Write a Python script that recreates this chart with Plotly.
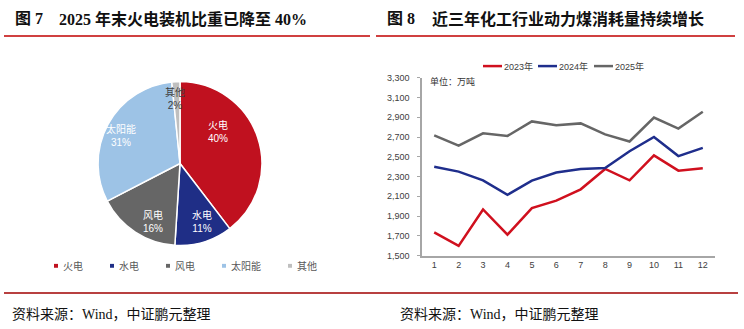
import plotly.graph_objects as go

W, H = 744, 329


def px(x):
    return x / W


def py(y):
    return 1 - y / H


# ---------------- data ----------------
pie_labels = ["火电", "水电", "风电", "太阳能", "其他"]
pie_values = [39.6, 11.4, 16.4, 31.0, 1.6]
pie_colors = ["#C0111F", "#1F2E86", "#666666", "#9DC3E6", "#BFBFBF"]

months = list(range(1, 13))
y_ticks = list(range(1500, 3301, 200))
series_names = ["2023年", "2024年", "2025年"]
s2023 = [1736, 1598, 1967, 1712, 1981, 2056, 2171, 2377, 2262, 2514, 2360, 2384]
s2024 = [2399, 2350, 2262, 2115, 2259, 2341, 2377, 2387, 2556, 2701, 2507, 2590]
s2025 = [2717, 2612, 2737, 2711, 2858, 2819, 2838, 2727, 2655, 2897, 2786, 2956]
series_values = [s2023, s2024, s2025]
series_colors = ["#D0101E", "#1F2E8C", "#666666"]

title_left_no = "图 7"
title_left = "2025 年末火电装机比重已降至 40%"
title_right_no = "图 8"
title_right = "近三年化工行业动力煤消耗量持续增长"
source_text = "资料来源：Wind，中证鹏元整理"
unit_text = "单位：万吨"

CJK = "Liberation Sans, Noto Sans CJK SC"
SERIF = "Liberation Serif, Noto Sans CJK SC"

fig = go.Figure()

# ---------------- pie ----------------
fig.add_trace(go.Pie(
    labels=pie_labels, values=pie_values, sort=False, direction="clockwise",
    rotation=0,
    marker=dict(colors=pie_colors, line=dict(color="white", width=1.5)),
    textinfo="none",
    domain=dict(x=[px(95.5), px(264.5)], y=[py(248), py(79)]),
    showlegend=False, hoverinfo="label+percent",
))

# ---------------- lines ----------------
for name, vals, col in zip(series_names, series_values, series_colors):
    fig.add_trace(go.Scatter(
        x=months, y=vals, mode="lines", name=name,
        line=dict(color=col, width=2.5), showlegend=False,
    ))

fig.update_layout(
    width=W, height=H, margin=dict(l=0, r=0, t=0, b=0),
    paper_bgcolor="white", plot_bgcolor="white",
    font=dict(family=CJK, color="#404040"),
    xaxis=dict(domain=[px(422), px(715)], range=[0.5, 12.5], tickvals=months,
               showline=True, linecolor="#A6A6A6", linewidth=1.5,
               showgrid=False, zeroline=False, ticks="",
               tickfont=dict(size=9, color="#404040")),
    yaxis=dict(domain=[py(258.5), py(75)], range=[1500, 3300], tickvals=y_ticks,
               tickformat=",", showline=True, linecolor="#A6A6A6", linewidth=1.5,
               showgrid=False, zeroline=False, ticks="outside", ticklen=3,
               tickcolor="#A6A6A6", ticklabelstandoff=6,
               tickfont=dict(size=9, color="#404040")),
)

shapes = []
annotations = []

# title underlines and bottom rule
shapes.append(dict(type="line", xref="paper", yref="paper", x0=px(4), x1=px(370),
                   y0=py(32), y1=py(32), line=dict(color="#C00000", width=1.5)))
shapes.append(dict(type="line", xref="paper", yref="paper", x0=px(376), x1=px(735),
                   y0=py(32), y1=py(32), line=dict(color="#C00000", width=1.5)))
shapes.append(dict(type="line", xref="paper", yref="paper", x0=px(4), x1=px(738),
                   y0=py(297), y1=py(297), line=dict(color="#A00000", width=1.5)))

# titles
for x, txt in [(13, title_left_no), (57, title_left), (385, title_right_no), (430, title_right)]:
    annotations.append(dict(xref="paper", yref="paper", x=px(x), y=py(14), text=f"<b>{txt}</b>",
                            showarrow=False, xanchor="left", yanchor="middle",
                            font=dict(family=SERIF, size=16, color="#111111")))

# sources
for x in [10, 398]:
    annotations.append(dict(xref="paper", yref="paper", x=px(x), y=py(319), text=source_text,
                            showarrow=False, xanchor="left", yanchor="middle",
                            font=dict(family=SERIF, size=14, color="#111111")))

# unit
annotations.append(dict(xref="paper", yref="paper", x=px(428), y=py(79), text=unit_text,
                        showarrow=False, xanchor="left", yanchor="middle",
                        font=dict(family=CJK, size=9, color="#333333")))

# slice labels
total = sum(pie_values)
label_pos = [(217.5, 130.5), (201.5, 223.5), (152.5, 223), (121, 135), (175, 96.5)]
label_cols = ["white", "white", "white", "white", "#404040"]
for (x, y), lab, val, tc in zip(label_pos, pie_labels, pie_values, label_cols):
    annotations.append(dict(xref="paper", yref="paper", x=px(x), y=py(y),
                            text=f"{lab}<br>{val / total:.0%}",
                            showarrow=False, xanchor="center", yanchor="middle",
                            font=dict(family=CJK, size=10, color=tc)))

# pie legend
pie_leg_x = [56, 112, 168, 224, 290]
for x, lab, col in zip(pie_leg_x, pie_labels, pie_colors):
    shapes.append(dict(type="rect", xref="paper", yref="paper", x0=px(x - 2), x1=px(x + 2),
                       y0=py(271), y1=py(267), fillcolor=col, line=dict(width=0)))
    annotations.append(dict(xref="paper", yref="paper", x=px(x + 5), y=py(269), text=lab,
                            showarrow=False, xanchor="left", yanchor="middle",
                            font=dict(family=CJK, size=10, color="#595959")))

# line legend
line_leg_x = [483, 538, 594]
for x, lab, col in zip(line_leg_x, series_names, series_colors):
    shapes.append(dict(type="line", xref="paper", yref="paper", x0=px(x), x1=px(x + 19),
                       y0=py(63), y1=py(63), line=dict(color=col, width=2.5)))
    annotations.append(dict(xref="paper", yref="paper", x=px(x + 19), y=py(63), text=lab,
                            showarrow=False, xanchor="left", yanchor="middle",
                            font=dict(family=CJK, size=9, color="#404040")))

fig.update_layout(shapes=shapes, annotations=annotations)
fig.write_html("out.html")
